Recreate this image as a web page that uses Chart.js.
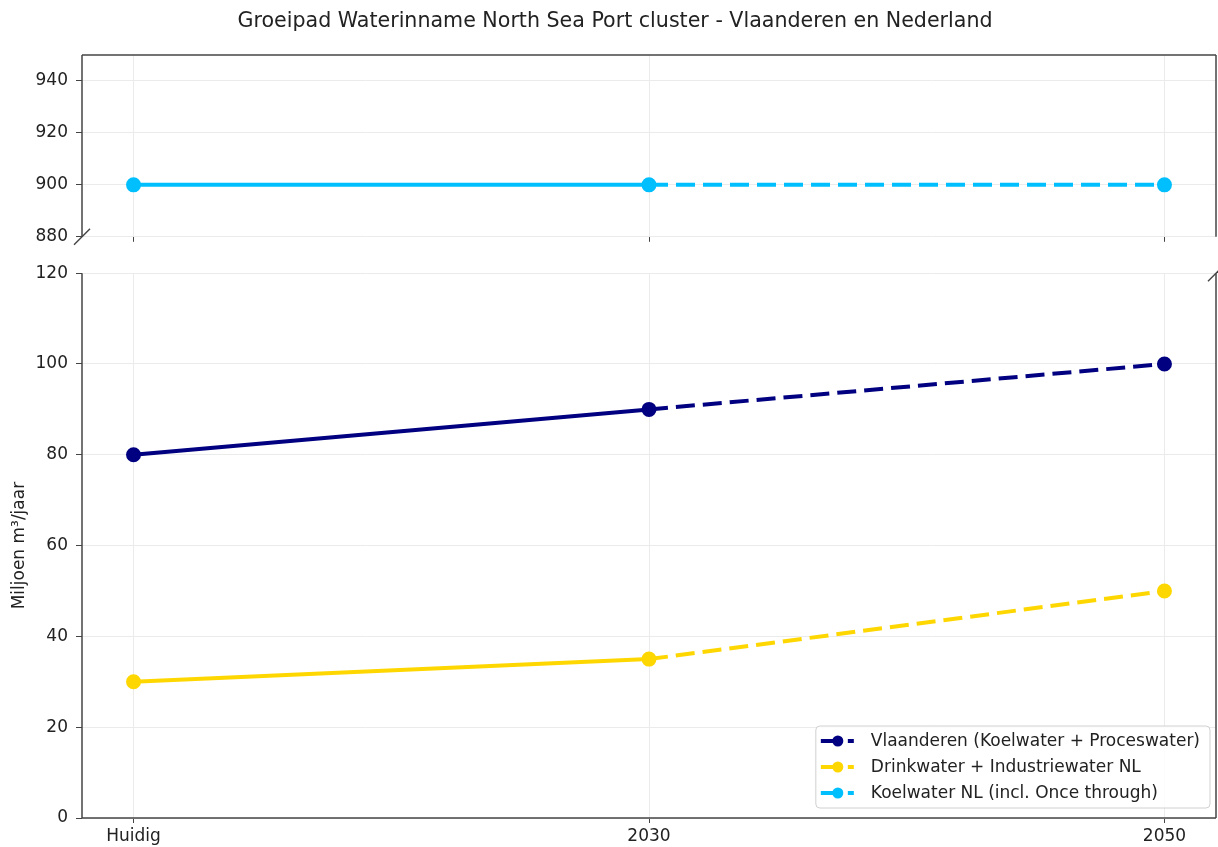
<!DOCTYPE html>
<html>
<head>
<meta charset="utf-8">
<script src="https://cdn.jsdelivr.net/npm/chart.js@4.4.1/dist/chart.umd.min.js"></script>
<style>
  html, body { margin: 0; padding: 0; background: #fff; }
  #wrap { position: relative; width: 1218px; height: 847px; }
  #topChart { position: absolute; left: 0; top: 0; }
  #bottomChart { position: absolute; left: 0; top: 255px; }
</style>
</head>
<body>
<div id="wrap">
  <canvas id="topChart" width="1218" height="255"></canvas>
  <canvas id="bottomChart" width="1218" height="592"></canvas>
</div>
<script>
// ========================== DATA ==============================
const xLabels = ['Huidig', '2030', '2050'];
const vlaanderen = [80, 90, 100];
const drinkwater = [30, 35, 50];
const koelwaterNL = [900, 900, 900];
const topTicks = [880, 900, 920, 940];
const bottomTicks = [0, 20, 40, 60, 80, 100, 120];

const seriesNames = [
  'Vlaanderen (Koelwater + Proceswater)',
  'Drinkwater + Industriewater NL',
  'Koelwater NL (incl. Once through)'
];
const seriesColors = ['#000080', '#FFD700', '#00BFFF'];
const chartTitle = 'Groeipad Waterinname North Sea Port cluster - Vlaanderen en Nederland';

const FONT = "'DejaVu Sans', sans-serif";
const GRID = '#ebebeb';
const SPINE = '#444';
const DASH = [19, 8];

// ========================== HELPERS ===========================
function toPoints(values) {
  return values.map((v, i) => ({ x: i, y: v }));
}

function lineDataset(label, values, color) {
  return {
    label,
    data: toPoints(values),
    borderColor: color,
    backgroundColor: color,
    borderWidth: 4,
    pointRadius: 5.5,
    pointHoverRadius: 5.5,
    tension: 0,
    segment: {
      borderDash: ctx => ctx.p0DataIndex >= 1 ? DASH : undefined
    }
  };
}

function xScale(showLabels, axisHeight) {
  return {
    type: 'linear',
    min: -0.1,
    max: 2.1,
    afterBuildTicks: s => { s.ticks = xLabels.map((_, i) => ({ value: i })); },
    afterFit: s => { s.height = axisHeight; },
    grid: { color: GRID, tickColor: SPINE, tickLength: 5 },
    border: { display: false },
    ticks: {
      padding: 3,
      color: '#222',
      font: { family: FONT, size: 17 },
      maxRotation: 0,
      callback: v => showLabels ? xLabels[v] : ''
    }
  };
}

function yScale(min, max, tickList, title) {
  return {
    min, max,
    afterBuildTicks: s => { s.ticks = tickList.map(v => ({ value: v })); },
    afterFit: s => { s.width = 82; },
    grid: { color: GRID, tickColor: SPINE, tickLength: 6 },
    border: { display: false },
    title: title ? {
      display: true,
      text: title,
      color: '#222',
      font: { family: FONT, size: 17 },
      padding: { top: 9, bottom: 0 }
    } : { display: false },
    ticks: {
      padding: 8,
      color: '#222',
      font: { family: FONT, size: 17 }
    }
  };
}

// spines + broken-axis marks + figure title
const spinePlugin = {
  id: 'spines',
  afterDraw(chart, args, opts) {
    const { ctx, chartArea: a } = chart;
    ctx.save();
    ctx.strokeStyle = SPINE;
    ctx.lineWidth = 1.5;
    ctx.setLineDash([]);
    (opts.sides || []).forEach(side => {
      ctx.beginPath();
      if (side === 'left') { ctx.moveTo(a.left, a.top); ctx.lineTo(a.left, a.bottom); }
      if (side === 'right') { ctx.moveTo(a.right, a.top); ctx.lineTo(a.right, a.bottom); }
      if (side === 'top') { ctx.moveTo(a.left, a.top); ctx.lineTo(a.right, a.top); }
      if (side === 'bottom') { ctx.moveTo(a.left, a.bottom); ctx.lineTo(a.right, a.bottom); }
      ctx.stroke();
    });
    (opts.breaks || []).forEach(corner => {
      const x = corner.indexOf('left') >= 0 ? a.left : a.right;
      const y = corner.indexOf('top') >= 0 ? a.top : a.bottom;
      ctx.beginPath();
      ctx.moveTo(x - 8, y + 8);
      ctx.lineTo(x + 8, y - 8);
      ctx.stroke();
    });
    if (opts.title) {
      ctx.font = `20.6px ${FONT}`;
      ctx.fillStyle = '#222';
      ctx.textAlign = 'center';
      ctx.textBaseline = 'middle';
      ctx.fillText(opts.title, 615, 22);
    }
    ctx.restore();
  }
};

// matplotlib-style legend, lower right
const legendPlugin = {
  id: 'mplLegend',
  afterDraw(chart, args, opts) {
    if (!opts.show) return;
    const { ctx, chartArea: a } = chart;
    ctx.save();
    ctx.font = `17px ${FONT}`;
    const textW = Math.max(...seriesNames.map(n => ctx.measureText(n).width));
    const w = 5 + 33 + 17 + textW + 10;
    const h = 82;
    const right = a.right - 6;
    const bottom = a.bottom - 10;
    const left = right - w;
    const top = bottom - h;

    ctx.beginPath();
    ctx.roundRect(left, top, w, h, 4);
    ctx.fillStyle = 'rgba(255,255,255,0.85)';
    ctx.fill();
    ctx.strokeStyle = '#d0d0d0';
    ctx.lineWidth = 1;
    ctx.stroke();

    seriesNames.forEach((name, i) => {
      const y = top + 15 + i * 26;
      const x0 = left + 5;
      ctx.strokeStyle = seriesColors[i];
      ctx.lineWidth = 4;
      ctx.setLineDash(DASH);
      ctx.beginPath();
      ctx.moveTo(x0, y);
      ctx.lineTo(x0 + 33, y);
      ctx.stroke();
      ctx.setLineDash([]);
      ctx.fillStyle = seriesColors[i];
      ctx.beginPath();
      ctx.arc(x0 + 17, y, 5.5, 0, Math.PI * 2);
      ctx.fill();
      ctx.fillStyle = '#222';
      ctx.textBaseline = 'middle';
      ctx.fillText(name, x0 + 33 + 17, y + 1);
    });
    ctx.restore();
  }
};

// ========================== TOP PANEL =========================
new Chart(document.getElementById('topChart'), {
  type: 'line',
  data: {
    datasets: [lineDataset(seriesNames[2], koelwaterNL, seriesColors[2])]
  },
  options: {
    responsive: false,
    animation: false,
    layout: { autoPadding: false, padding: { left: 0, right: 2, top: 55, bottom: 0 } },
    plugins: {
      legend: { display: false },
      tooltip: { enabled: false },
      title: { display: false },
      spines: { sides: ['left', 'top', 'right'], breaks: ['bottomleft'], title: chartTitle },
      mplLegend: { show: false }
    },
    scales: {
      x: xScale(false, 14),
      y: yScale(880, 950, topTicks, null)
    }
  },
  plugins: [spinePlugin, legendPlugin]
});

// ========================== BOTTOM PANEL ======================
new Chart(document.getElementById('bottomChart'), {
  type: 'line',
  data: {
    datasets: [
      lineDataset(seriesNames[0], vlaanderen, seriesColors[0]),
      lineDataset(seriesNames[1], drinkwater, seriesColors[1])
    ]
  },
  options: {
    responsive: false,
    animation: false,
    layout: { autoPadding: false, padding: { left: 0, right: 2, top: 18, bottom: 0 } },
    plugins: {
      legend: { display: false },
      tooltip: { enabled: false },
      spines: { sides: ['left', 'bottom', 'right'], breaks: ['topright'] },
      mplLegend: { show: true }
    },
    scales: {
      x: xScale(true, 29),
      y: yScale(0, 120, bottomTicks, 'Miljoen m³/jaar')
    }
  },
  plugins: [spinePlugin, legendPlugin]
});
</script>
</body>
</html>
